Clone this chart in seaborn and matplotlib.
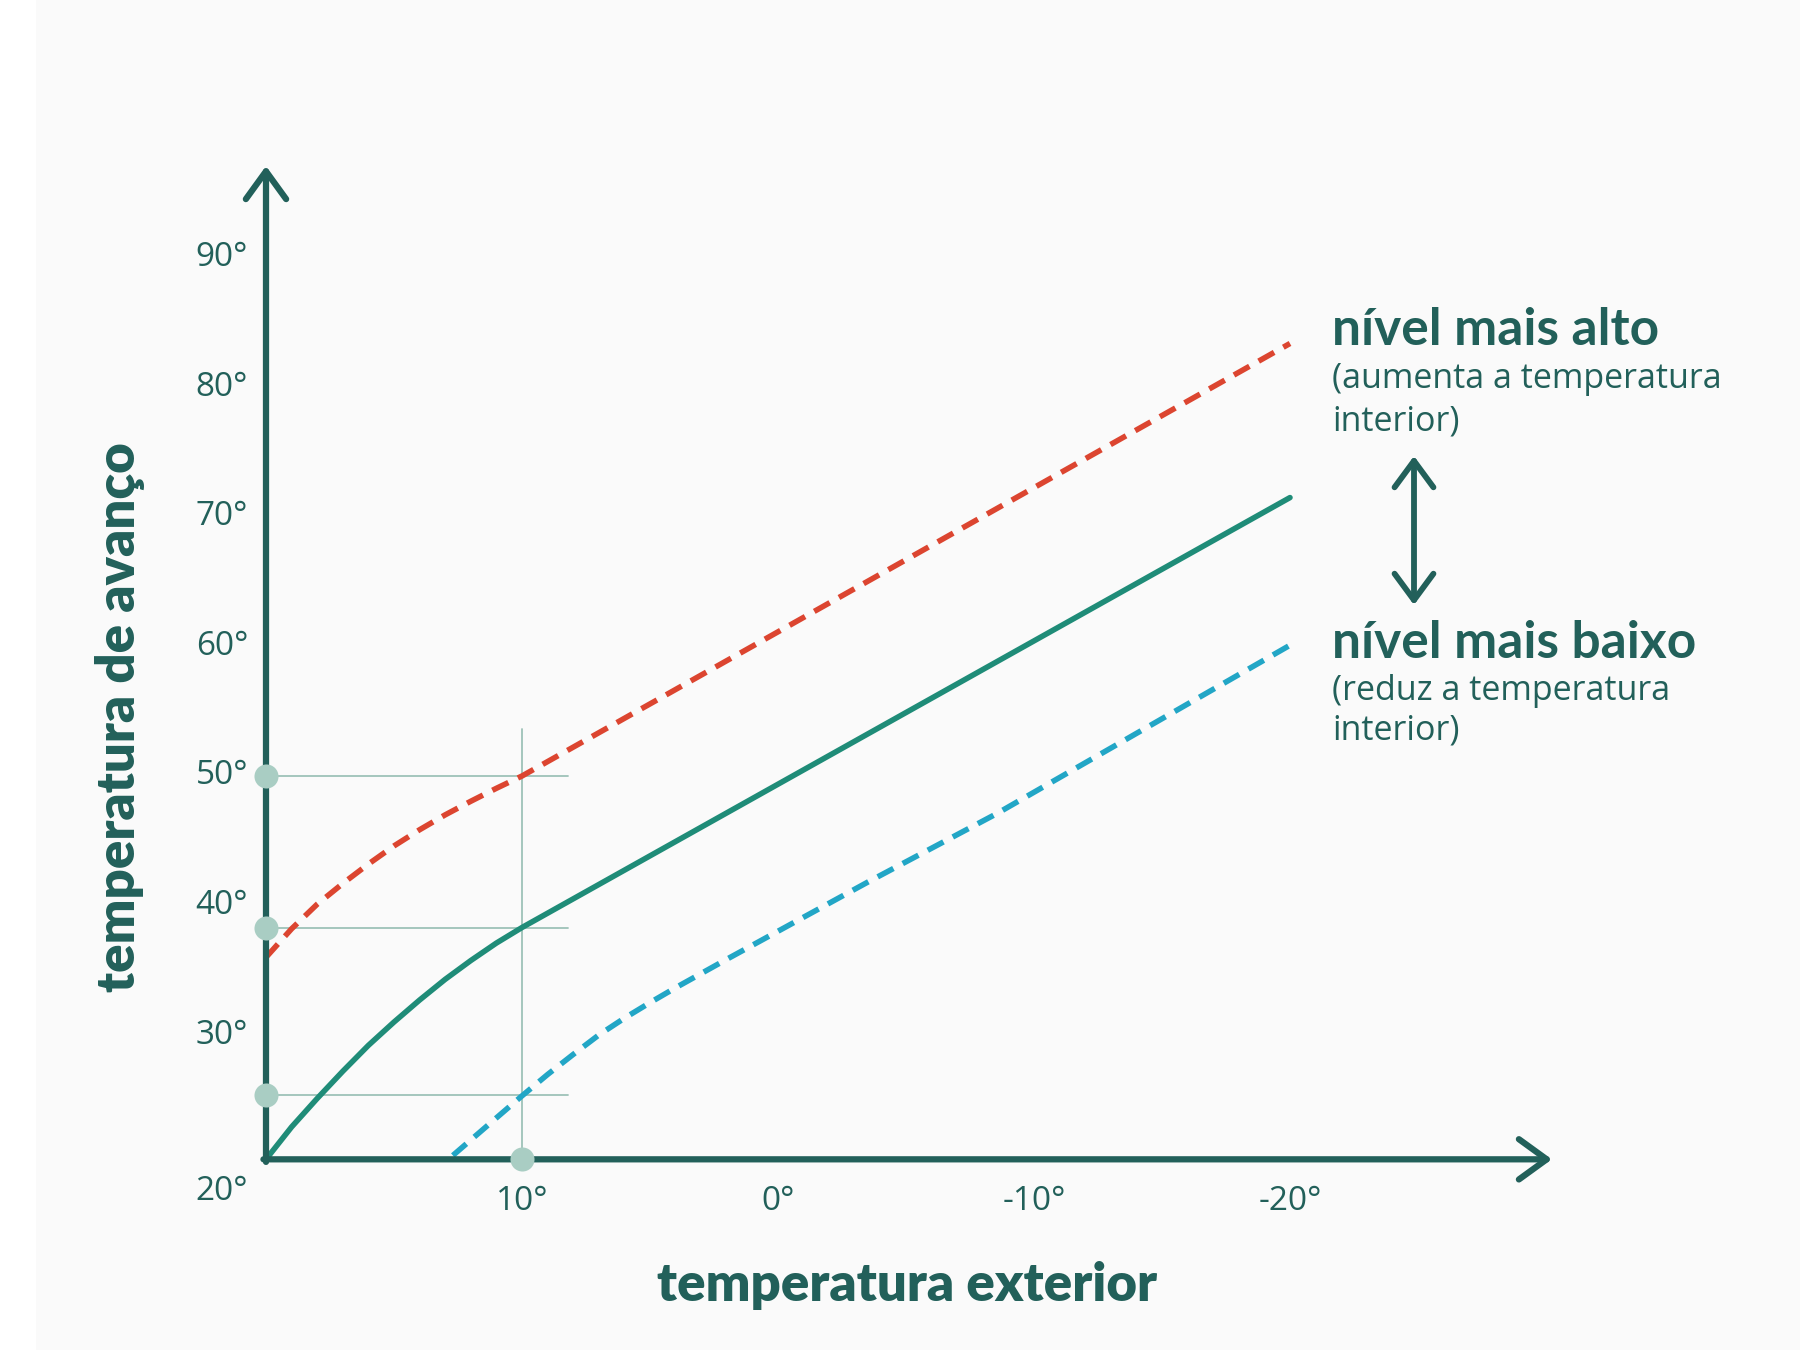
import matplotlib
matplotlib.use("Agg")
import matplotlib.pyplot as plt
import seaborn as sns
import pandas as pd
from matplotlib.patches import Rectangle

sns.set_style("white")
plt.rcParams['font.family'] = ['Lato', 'DejaVu Sans']

# curves: outside temp -> flow temp
normal_x = [20, 19, 18, 17, 16, 15, 14, 13, 12, 11, 10, -20]
normal_y = [20.4, 22.9, 25.1, 27.2, 29.2, 31.0, 32.7, 34.3, 35.75, 37.1, 38.3, 71.5]
high_x = [20, 19, 18, 17, 16, 15, 14, 13, 12, 11, 10, -20]
high_y = [36.0, 38.2, 40.1, 41.7, 43.2, 44.6, 45.85, 47.0, 48.05, 49.05, 50.0, 83.4]
low_x = [12.7, 11, 10, 9, 8, 7, 6, 5, 4, 2, -3.5, -8.55, -20]
low_y = [20.7, 23.6, 25.3, 26.95, 28.5, 30.0, 31.3, 32.5, 33.65, 35.85, 41.8, 47.1, 60.1]

guide_y = [50, 38.3, 25.4]
guide_x = 10
y_ticks = [30, 40, 50, 60, 70, 80, 90]
x_ticks = [10, 0, -10, -20]

dark = "#22605a"
guide_col = "#9dc2b8"
dot_col = "#a9cdc3"
reg_font = ['Open Sans', 'DejaVu Sans']

fig = plt.figure(figsize=(18, 13.5), dpi=100)
fig.patch.set_facecolor("white")
fig.patches.append(Rectangle((36 / 1800, 0), 1, 1, transform=fig.transFigure,
                             facecolor="#fafafa", edgecolor="none", zorder=-10))
ax = fig.add_axes([0, 0, 1, 1])
ax.set_facecolor("none")

x0, y0 = 20, 20.4

# guide lines
for gy in guide_y:
    ax.plot([x0, 8.2], [gy, gy], color=guide_col, lw=1.3, zorder=1)
ax.plot([guide_x, guide_x], [y0, 53.6], color=guide_col, lw=1.3, zorder=1)

df_n = pd.DataFrame({"x": normal_x, "y": normal_y})
df_h = pd.DataFrame({"x": high_x, "y": high_y})
df_l = pd.DataFrame({"x": low_x, "y": low_y})
sns.lineplot(data=df_n, x="x", y="y", ax=ax, color="#1f8c78", lw=4.0,
             sort=False, estimator=None, zorder=3, solid_capstyle="round")
sns.lineplot(data=df_h, x="x", y="y", ax=ax, color="#dc4530", lw=4.0,
             sort=False, estimator=None, zorder=3)
sns.lineplot(data=df_l, x="x", y="y", ax=ax, color="#22a6c6", lw=4.0,
             sort=False, estimator=None, zorder=3)
for ln in ax.lines[-2:]:
    ln.set_dashes([3.2, 1.9])
ax.set_xlim(20 + 266 / 25.6, 20 - 1534 / 25.6)
ax.set_ylim(50 - 574 / 12.95, 50 + 776 / 12.95)
ax.axis("off")

# axes with open arrowheads
arrow = dict(arrowstyle="->,head_length=2.0,head_width=1.45", color=dark, lw=4.5,
             shrinkA=0, shrinkB=0, capstyle="round", joinstyle="round")
ax.annotate("", xy=(x0, 50 + (776 - 166) / 12.95), xytext=(x0, y0 - 0.2),
            arrowprops=arrow, zorder=4)
ax.annotate("", xy=(20 - (1552 - 266) / 25.6, y0), xytext=(x0 + 0.1, y0),
            arrowprops=arrow, zorder=4)

# dots
ax.scatter([x0] * len(guide_y), guide_y, s=300, color=dot_col, zorder=5, lw=0)
ax.scatter([guide_x], [y0], s=300, color=dot_col, zorder=5, lw=0)

# tick labels
for t in y_ticks:
    ax.text(20 + (266 - 248) / 25.6, t, f"{t}°", ha="right", va="center",
            fontsize=24, color=dark, family=reg_font)
ax.text(20 + (266 - 248) / 25.6, 17.9, "20°", ha="right", va="center",
        fontsize=24, color=dark, family=reg_font)
for t in x_ticks:
    ax.text(t, 50 - (1202 - 776) / 12.95, f"{t}°", ha="center", va="center",
            fontsize=24, color=dark, family=reg_font)

# axis titles
ax.text(20 - (907 - 266) / 25.6, 50 - (1286 - 776) / 12.95, "temperatura exterior",
        ha="center", va="center", fontsize=38, fontweight="heavy", color=dark)
ax.text(20 + (266 - 120) / 25.6, 50 - (717 - 776) / 12.95, "temperatura de avanço",
        ha="center", va="center", rotation=90, fontsize=38, fontweight="heavy", color=dark)

# level annotations
tx = 20 - (1332 - 266) / 25.6
ax.text(tx, 50 + (776 - 331) / 12.95, "nível mais alto", ha="left", va="center",
        fontsize=37, fontweight="bold", color=dark)
ax.text(tx, 50 + (776 - 379) / 12.95, "(aumenta a temperatura", ha="left", va="center",
        fontsize=24.5, color=dark, family=reg_font)
ax.text(tx, 50 + (776 - 421) / 12.95, "interior)", ha="left", va="center",
        fontsize=24.5, color=dark, family=reg_font)
ax.text(tx, 50 + (776 - 644) / 12.95, "nível mais baixo", ha="left", va="center",
        fontsize=37, fontweight="bold", color=dark)
ax.text(tx, 50 + (776 - 691) / 12.95, "(reduz a temperatura", ha="left", va="center",
        fontsize=24.5, color=dark, family=reg_font)
ax.text(tx, 50 + (776 - 731) / 12.95, "interior)", ha="left", va="center",
        fontsize=24.5, color=dark, family=reg_font)

ax_x = 20 - (1414 - 266) / 25.6
double = dict(arrowstyle="<->,head_length=1.9,head_width=1.4", color=dark, lw=4.2,
              shrinkA=0, shrinkB=0, capstyle="round", joinstyle="round")
ax.annotate("", xy=(ax_x, 50 + (776 - 456) / 12.95), xytext=(ax_x, 50 + (776 - 605) / 12.95),
            arrowprops=double)

fig.savefig("out.png", dpi=100)
